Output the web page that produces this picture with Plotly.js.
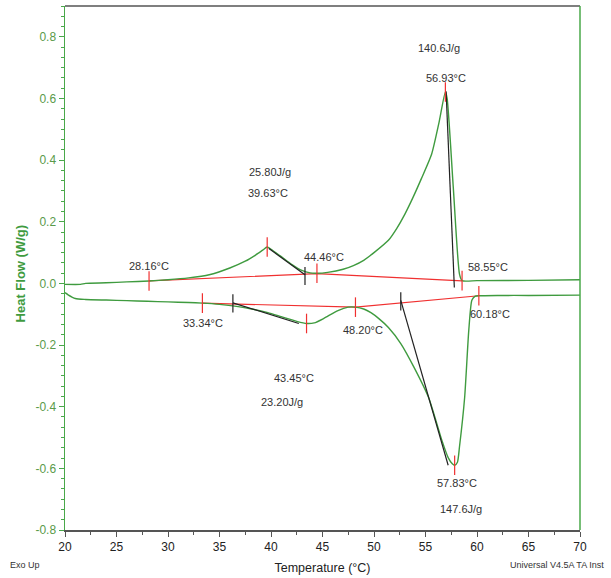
<!DOCTYPE html>
<html>
<head>
<meta charset="utf-8">
<script src="https://cdn.plot.ly/plotly-3.0.1.min.js"></script>
<style>html,body{margin:0;padding:0;background:#fff;}#chart{width:611px;height:578px;}</style>
</head>
<body>
<div id="chart"></div>
<script>
// Upper scan (heat flow, W/g) vs temperature (°C)
var upperT = [20.0, 21.5, 22.0, 24, 26, 28.16, 30, 32, 34, 36, 37.5, 38.5, 39.2, 39.63, 40.2, 41, 42, 43, 43.8, 44.46, 45.5, 47, 48, 49, 50, 51.4, 52.2, 53, 53.8, 54.6, 55.6, 56.3, 56.93, 57.1, 57.7, 58.3, 58.55, 60, 65, 70];
var upperHF = [-0.003, -0.003, 0.0, 0.002, 0.005, 0.008, 0.012, 0.018, 0.028, 0.05, 0.072, 0.092, 0.108, 0.118, 0.106, 0.087, 0.062, 0.042, 0.034, 0.033, 0.036, 0.046, 0.058, 0.075, 0.1, 0.14, 0.178, 0.225, 0.28, 0.34, 0.42, 0.52, 0.621, 0.6, 0.31, 0.03, 0.009, 0.009, 0.01, 0.012];
// Lower scan
var lowerT = [20.0, 20.3, 21, 22, 24, 26, 28, 30, 32, 33.34, 35, 36.3, 38, 39.7, 41, 42.5, 43.45, 44.2, 45.1, 46.5, 47.5, 48.2, 49, 49.7, 50.5, 51.4, 52.6, 53.9, 55.3, 56.6, 57.2, 57.6, 57.83, 58.1, 58.3, 58.8, 59.2, 59.5, 59.8, 60.18, 62, 65, 70];
var lowerHF = [-0.03, -0.037, -0.049, -0.052, -0.054, -0.056, -0.058, -0.06, -0.062, -0.064, -0.068, -0.073, -0.082, -0.095, -0.108, -0.123, -0.13, -0.128, -0.114, -0.088, -0.077, -0.077, -0.083, -0.095, -0.115, -0.143, -0.195, -0.273, -0.37, -0.51, -0.565, -0.585, -0.59, -0.58, -0.53, -0.37, -0.153, -0.055, -0.042, -0.04, -0.039, -0.039, -0.038];

// Integration baselines (red)
var upperBaseT = [28.16, 44.46, 58.55];
var upperBaseHF = [0.008, 0.032, 0.008];
var lowerBaseT = [33.34, 48.20, 60.18];
var lowerBaseHF = [-0.064, -0.077, -0.040];

// Characteristic points (red markers)
var pointT = [28.16, 39.63, 44.46, 56.93, 58.55, 33.34, 43.45, 48.20, 57.83, 60.18];
var pointHF = [0.008, 0.118, 0.033, 0.621, 0.009, -0.064, -0.13, -0.077, -0.59, -0.040];

// Tangent lines (black)
var tan1T = [39.8, 43.3], tan1HF = [0.113, 0.028];
var tan2T = [57.0, 57.8], tan2HF = [0.623, -0.013];
var tan3T = [36.3, 42.7], tan3HF = [-0.063, -0.13];
var tan4T = [52.6, 57.2], tan4HF = [-0.055, -0.59];
var tickT = [43.3, 36.3, 52.6];
var tickHF = [0.024, -0.065, -0.058];

// Annotation labels
var annText = ["140.6J/g", "56.93°C", "25.80J/g", "39.63°C", "28.16°C", "44.46°C", "58.55°C", "60.18°C", "33.34°C", "48.20°C", "43.45°C", "23.20J/g", "57.83°C", "147.6J/g"];
var annT = [56.3, 57.0, 39.9, 39.7, 28.2, 45.1, 61.1, 61.3, 33.35, 48.9, 42.2, 41.1, 58.1, 58.4];
var annHF = [0.765, 0.667, 0.361, 0.293, 0.055, 0.085, 0.052, -0.098, -0.127, -0.15, -0.306, -0.384, -0.647, -0.732];

// Axis ticks
var xTicks = [20, 25, 30, 35, 40, 45, 50, 55, 60, 65, 70];
var yTicks = [-0.8, -0.6, -0.4, -0.2, 0.0, 0.2, 0.4, 0.6, 0.8];
var yTickText = ["-0.8", "-0.6", "-0.4", "-0.2", "0.0", "0.2", "0.4", "0.6", "0.8"];

var green = '#3f9b3f';
var red = '#f03030';
var black = '#222';
var font = 'Liberation Sans, Arial, sans-serif';

function line(x, y, color, w, shape) {
  var ln = {color: color, width: w || 1.2};
  if (shape) { ln.shape = 'spline'; ln.smoothing = 0.6; }
  return {x: x, y: y, mode: 'lines', line: ln, hoverinfo: 'skip', showlegend: false};
}

var traces = [
  line(upperBaseT, upperBaseHF, red, 1.2),
  line(lowerBaseT, lowerBaseHF, red, 1.2),
  line(upperT, upperHF, green, 1.4, true),
  line(lowerT, lowerHF, green, 1.4, true),
  line(tan1T, tan1HF, black, 1.2),
  line(tan2T, tan2HF, black, 1.2),
  line(tan3T, tan3HF, black, 1.2),
  line(tan4T, tan4HF, black, 1.2),
  {x: tickT, y: tickHF, mode: 'markers', marker: {symbol: 'line-ns-open', size: 13, color: black, line: {color: black, width: 1.2}}, showlegend: false, hoverinfo: 'skip'},
  {x: pointT, y: pointHF, mode: 'markers', marker: {symbol: 'line-ns-open', size: 14, color: red, line: {color: red, width: 1.2}}, showlegend: false, hoverinfo: 'skip'}
];

var annotations = annText.map(function (t, i) {
  return {x: annT[i], y: annHF[i], xref: 'x', yref: 'y', text: t, showarrow: false,
    font: {family: font, size: 11, color: '#333'}, xanchor: 'center', yanchor: 'middle'};
});
annotations.push({x: -0.078, y: -0.067, xref: 'paper', yref: 'paper', text: 'Exo Up', showarrow: false,
  font: {family: font, size: 9, color: '#333'}, xanchor: 'center', yanchor: 'middle'});
annotations.push({x: 1.05, y: -0.067, xref: 'paper', yref: 'paper', text: 'Universal V4.5A TA Inst', showarrow: false,
  font: {family: font, size: 9, color: '#333'}, xanchor: 'right', yanchor: 'middle'});
annotations.push({x: -0.087, y: 0.49, xref: 'paper', yref: 'paper', text: '<b>Heat Flow (W/g)</b>', showarrow: false,
  textangle: -90, font: {family: font, size: 13, color: '#3f9b3f'}, xanchor: 'center', yanchor: 'middle'});

var layout = {
  width: 611, height: 578,
  margin: {l: 65, r: 31, t: 6, b: 48},
  paper_bgcolor: '#fff', plot_bgcolor: '#fff',
  font: {family: font},
  showlegend: false,
  xaxis: {
    range: [20, 70], tickmode: 'array', tickvals: xTicks,
    showgrid: false, zeroline: false, showline: true, linecolor: '#555', linewidth: 1.5,
    ticks: 'outside', ticklen: 5, tickcolor: '#555', tickwidth: 1,
    minor: {tickmode: 'linear', tick0: 20, dtick: 2.5, ticks: 'outside', ticklen: 3, tickcolor: '#555', showgrid: false},
    tickfont: {family: font, size: 12, color: '#222'},
    title: {text: 'Temperature (°C)', font: {family: font, size: 12.5, color: '#222'}, standoff: 10}
  },
  yaxis: {
    range: [-0.8, 0.9], tickmode: 'array', tickvals: yTicks, ticktext: yTickText,
    showgrid: false, zeroline: false, showline: true, linecolor: '#4aa84a', linewidth: 1.5,
    ticks: 'outside', ticklen: 5, tickcolor: '#4aa84a', tickwidth: 1,
    minor: {tickmode: 'linear', tick0: 0, dtick: 0.2 / 6, ticks: 'outside', ticklen: 3, tickcolor: '#4aa84a', showgrid: false},
    tickfont: {family: font, size: 12, color: '#5a9a4a'}
  },
  shapes: [
    {type: 'line', xref: 'paper', yref: 'paper', x0: 0, x1: 1, y0: 1, y1: 1, line: {color: '#555', width: 1.5}},
    {type: 'line', xref: 'paper', yref: 'paper', x0: 1, x1: 1, y0: 0, y1: 1, line: {color: '#4aa84a', width: 1.5}}
  ],
  annotations: annotations
};

Plotly.newPlot('chart', traces, layout, {displayModeBar: false, staticPlot: true});
</script>
</body>
</html>
